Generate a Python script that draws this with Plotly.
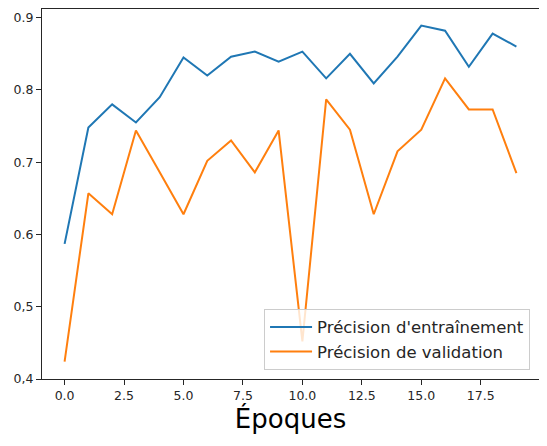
import plotly.graph_objects as go

# Epochs and accuracy values
epochs = list(range(20))
train_acc = [0.587, 0.748, 0.780, 0.755, 0.790, 0.845, 0.820, 0.846, 0.853, 0.839,
             0.853, 0.816, 0.850, 0.809, 0.846, 0.889, 0.882, 0.832, 0.878, 0.860]
val_acc = [0.424, 0.657, 0.628, 0.744, 0.686, 0.628, 0.702, 0.730, 0.686, 0.744,
           0.452, 0.787, 0.745, 0.628, 0.715, 0.745, 0.816, 0.773, 0.773, 0.685]

x_tickvals = [0.0, 2.5, 5.0, 7.5, 10.0, 12.5, 15.0, 17.5]
x_ticktext = ["0.0", "2.5", "5.0", "7.5", "10.0", "12.5", "15.0", "17.5"]
y_tickvals = [0.4, 0.5, 0.6, 0.7, 0.8, 0.9]
y_ticktext = ["0,4", "0,5", "0.6", "0.7", "0.8", "0.9"]

fig = go.Figure()

fig.add_trace(go.Scatter(
    x=epochs, y=train_acc, mode="lines",
    name="Précision d'entraînement",
    line=dict(color="#1f77b4", width=2),
))
fig.add_trace(go.Scatter(
    x=epochs, y=val_acc, mode="lines",
    name="Précision de validation",
    line=dict(color="#ff7f0e", width=2),
))

axis_style = dict(
    showline=True, linecolor="#262626", linewidth=1, mirror=True,
    ticks="outside", ticklen=5, tickwidth=1, tickcolor="#262626",
    showgrid=False, zeroline=False, automargin=False,
    tickfont=dict(size=12.5, color="#262626"),
)

# the page body adds an 8px offset, so margins are shifted to compensate
fig.update_layout(
    width=547,
    height=446,
    margin=dict(l=34, r=16, t=1, b=75),
    paper_bgcolor="white",
    plot_bgcolor="white",
    font=dict(family="DejaVu Sans", color="#262626"),
    xaxis=dict(
        range=[-0.95, 19.95],
        tickvals=x_tickvals, ticktext=x_ticktext,
        title=dict(text="Époques", font=dict(size=26, color="black"), standoff=5),
        **axis_style,
    ),
    yaxis=dict(
        range=[0.4, 0.912],
        tickvals=y_tickvals, ticktext=y_ticktext,
        **axis_style,
    ),
    legend=dict(
        x=0.982, y=0.025, xanchor="right", yanchor="bottom",
        bgcolor="rgba(255,255,255,0.8)",
        bordercolor="#cccccc", borderwidth=1,
        font=dict(size=16.5, color="#262626"),
        itemwidth=42,
        tracegroupgap=0,
    ),
)

fig.write_html("out.html")
